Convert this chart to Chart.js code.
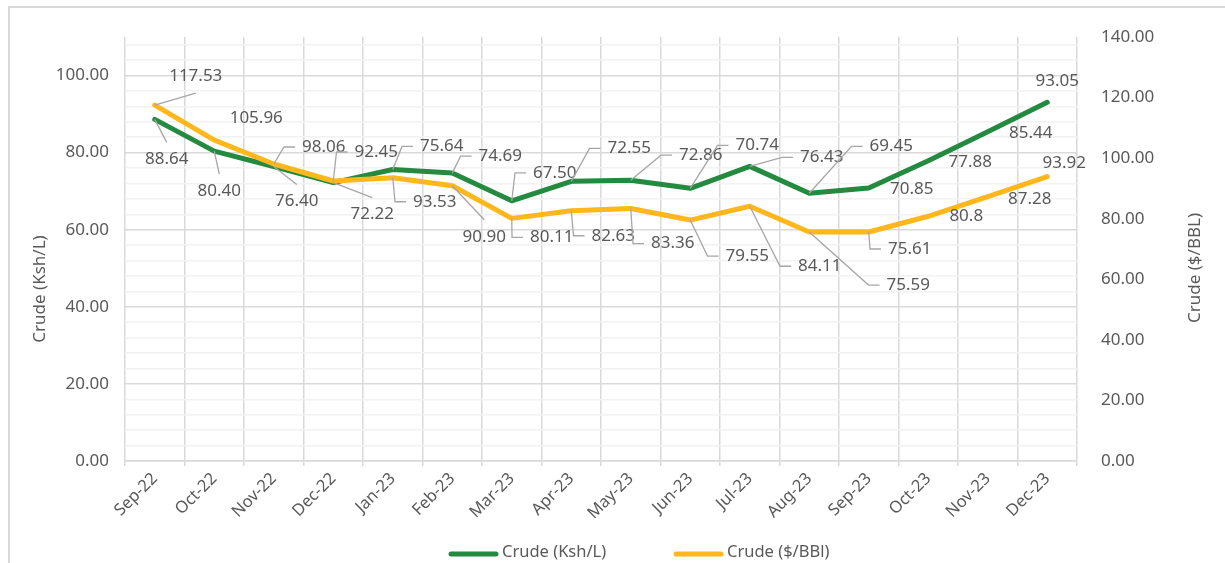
<!DOCTYPE html>
<html>
<head>
    <title>Crude prices</title>
    <style>
        html, body { margin: 0; padding: 0; background: #fff; }
        #wrap { width: 1225px; height: 563px; position: relative; }
    </style>
</head>
<body>
    <div id="wrap"><canvas id="crude"></canvas></div>

    <script src="https://cdn.jsdelivr.net/npm/chart.js"></script>
    <script>
        const months = ['Sep-22', 'Oct-22', 'Nov-22', 'Dec-22', 'Jan-23', 'Feb-23', 'Mar-23', 'Apr-23',
                        'May-23', 'Jun-23', 'Jul-23', 'Aug-23', 'Sep-23', 'Oct-23', 'Nov-23', 'Dec-23'];
        // values kept as written in the source sheet, so the labels show them the same way
        const kshPerLitre = ['88.64', '80.40', '76.40', '72.22', '75.64', '74.69', '67.50', '72.55',
                             '72.86', '70.74', '76.43', '69.45', '70.85', '77.88', '85.44', '93.05'];
        const usdPerBbl = ['117.53', '105.96', '98.06', '92.45', '93.53', '90.90', '80.11', '82.63',
                           '83.36', '79.55', '84.11', '75.59', '75.61', '80.8', '87.28', '93.92'];
        const leftTicks = [0, 20, 40, 60, 80, 100];
        const rightTicks = [0, 20, 40, 60, 80, 100, 120, 140];

        // label offset from its point [dx, dy, leader]: 0 none, 1 straight, 2 elbow
        const kshLabelPos = [
            [12, 40, 1], [5, 40, 1], [23, 35, 1], [39, 32, 1], [49, -23, 2], [48, -17, 2], [43, -28, 2], [58, -33, 2],
            [70, -25, 2], [67, -43, 2], [72, -9, 2], [82, -47, 2], [43, 1, 0], [42, 1, 0], [43, 1, 0], [10, -21, 0]
        ];
        const usdLabelPos = [
            [41, -29, 1], [42, -22, 0], [50, -17, 2], [43, -29, 2], [42, 24, 2], [32, 51, 1], [40, 19, 2], [42, 25, 2],
            [42, 35, 2], [57, 36, 2], [70, 60, 2], [99, 53, 2], [41, 17, 2], [38, 0, 0], [42, 2, 0], [17, -13, 0]
        ];

        const GREEN = '#238A40';
        const ORANGE = '#FFB71B';
        const TEXT = '#595959';
        const GRID = '#d9d9d9';
        const FONT = '"Noto Sans", sans-serif';

        const frame = {
            id: 'frame',
            beforeDraw(chart) {
                const ctx = chart.ctx;
                ctx.save();
                ctx.fillStyle = '#fff';
                ctx.fillRect(0, 0, chart.width, chart.height);
                ctx.strokeStyle = GRID;
                ctx.lineWidth = 2;
                ctx.beginPath();
                ctx.moveTo(9, chart.height);
                ctx.lineTo(9, 7);
                ctx.lineTo(chart.width, 7);
                ctx.stroke();
                ctx.restore();
            },
            afterDraw(chart) {
                const ctx = chart.ctx;
                ctx.save();
                ctx.fillStyle = TEXT;
                ctx.font = '17px ' + FONT;
                ctx.textAlign = 'center';
                ctx.textBaseline = 'middle';
                // axis titles
                ctx.save();
                ctx.translate(40, 289);
                ctx.rotate(-Math.PI / 2);
                ctx.fillText('Crude (Ksh/L)', 0, 0);
                ctx.restore();
                ctx.save();
                ctx.translate(1195, 268);
                ctx.rotate(-Math.PI / 2);
                ctx.fillText('Crude ($/BBL)', 0, 0);
                ctx.restore();
                // legend
                ctx.font = '16.5px ' + FONT;
                ctx.textAlign = 'left';
                ctx.lineWidth = 5;
                ctx.lineCap = 'round';
                const items = [[449, GREEN], [674, ORANGE]];
                chart.data.datasets.forEach((ds, i) => {
                    const x = items[i][0];
                    ctx.strokeStyle = items[i][1];
                    ctx.beginPath();
                    ctx.moveTo(x + 2, 554);
                    ctx.lineTo(x + 47, 554);
                    ctx.stroke();
                    ctx.fillText(ds.label, x + 53, 552);
                });
                ctx.restore();
            }
        };

        const pointLabels = {
            id: 'pointLabels',
            afterDatasetsDraw(chart) {
                const ctx = chart.ctx;
                const layouts = [kshLabelPos, usdLabelPos];
                ctx.save();
                ctx.font = '17px ' + FONT;
                ctx.textAlign = 'center';
                ctx.textBaseline = 'middle';
                ctx.strokeStyle = '#a6a6a6';
                ctx.lineWidth = 1.3;
                ctx.fillStyle = TEXT;
                chart.data.datasets.forEach((ds, di) => {
                    const meta = chart.getDatasetMeta(di);
                    meta.data.forEach((pt, i) => {
                        const [dx, dy, kind] = layouts[di][i];
                        const text = ds.data[i];
                        const cx = pt.x + dx;
                        const cy = pt.y + dy;
                        if (kind === 1) {
                            ctx.beginPath();
                            ctx.moveTo(pt.x, pt.y);
                            ctx.lineTo(cx, cy + (dy > 0 ? -17 : 17));
                            ctx.stroke();
                        } else if (kind === 2) {
                            const left = cx - ctx.measureText(text).width / 2;
                            ctx.beginPath();
                            ctx.moveTo(pt.x, pt.y);
                            ctx.lineTo(left - 18, cy);
                            ctx.lineTo(left - 7, cy);
                            ctx.stroke();
                        }
                        ctx.fillText(text, cx, cy);
                    });
                });
                ctx.restore();
            }
        };

        new Chart(document.getElementById('crude'), {
            type: 'line',
            data: {
                labels: months,
                datasets: [
                    {
                        label: 'Crude (Ksh/L)',
                        data: kshPerLitre,
                        yAxisID: 'ksh',
                        borderColor: GREEN,
                        borderWidth: 5,
                        order: 2
                    },
                    {
                        label: 'Crude ($/BBl)',
                        data: usdPerBbl,
                        yAxisID: 'usd',
                        borderColor: ORANGE,
                        borderWidth: 5,
                        order: 1
                    }
                ]
            },
            options: {
                responsive: true,
                maintainAspectRatio: false,
                animation: false,
                layout: { padding: { top: 37, left: 0, right: 0, bottom: 0 } },
                elements: {
                    point: { radius: 0, hoverRadius: 0 },
                    line: { tension: 0, borderCapStyle: 'round', borderJoinStyle: 'round' }
                },
                plugins: {
                    legend: { display: false },
                    tooltip: { enabled: false }
                },
                scales: {
                    x: {
                        offset: true,
                        afterFit(scale) { scale.height = 102; },
                        grid: { offset: true, color: GRID, lineWidth: 1.5, tickLength: 5 },
                        border: { color: GRID, width: 1.5 },
                        ticks: {
                            color: TEXT,
                            font: { family: FONT, size: 16.5 },
                            minRotation: 45,
                            maxRotation: 45,
                            padding: 3,
                            autoSkip: false
                        }
                    },
                    ksh: {
                        position: 'left',
                        min: 0,
                        max: 110,
                        afterFit(scale) { scale.width = 125; },
                        // minor lines every 4, labelled lines every 20
                        afterBuildTicks(scale) {
                            const t = [];
                            for (let v = 0; v < scale.max; v += 4) t.push({ value: v });
                            scale.ticks = t;
                        },
                        grid: {
                            drawTicks: false,
                            lineWidth: 1.5,
                            color: c => leftTicks.includes(c.tick.value) ? GRID : '#f2f2f2'
                        },
                        border: { display: false },
                        ticks: {
                            color: TEXT,
                            font: { family: FONT, size: 17 },
                            padding: 16,
                            autoSkip: false,
                            callback: v => leftTicks.includes(v) ? v.toFixed(2) : ''
                        }
                    },
                    usd: {
                        position: 'right',
                        min: 0,
                        max: rightTicks[rightTicks.length - 1],
                        afterFit(scale) { scale.width = 148; },
                        afterBuildTicks(scale) { scale.ticks = rightTicks.map(v => ({ value: v })); },
                        grid: { display: false },
                        border: { display: false },
                        ticks: {
                            color: TEXT,
                            font: { family: FONT, size: 17 },
                            padding: 16,
                            callback: v => v.toFixed(2)
                        }
                    }
                }
            },
            plugins: [frame, pointLabels]
        });
    </script>
</body>
</html>
